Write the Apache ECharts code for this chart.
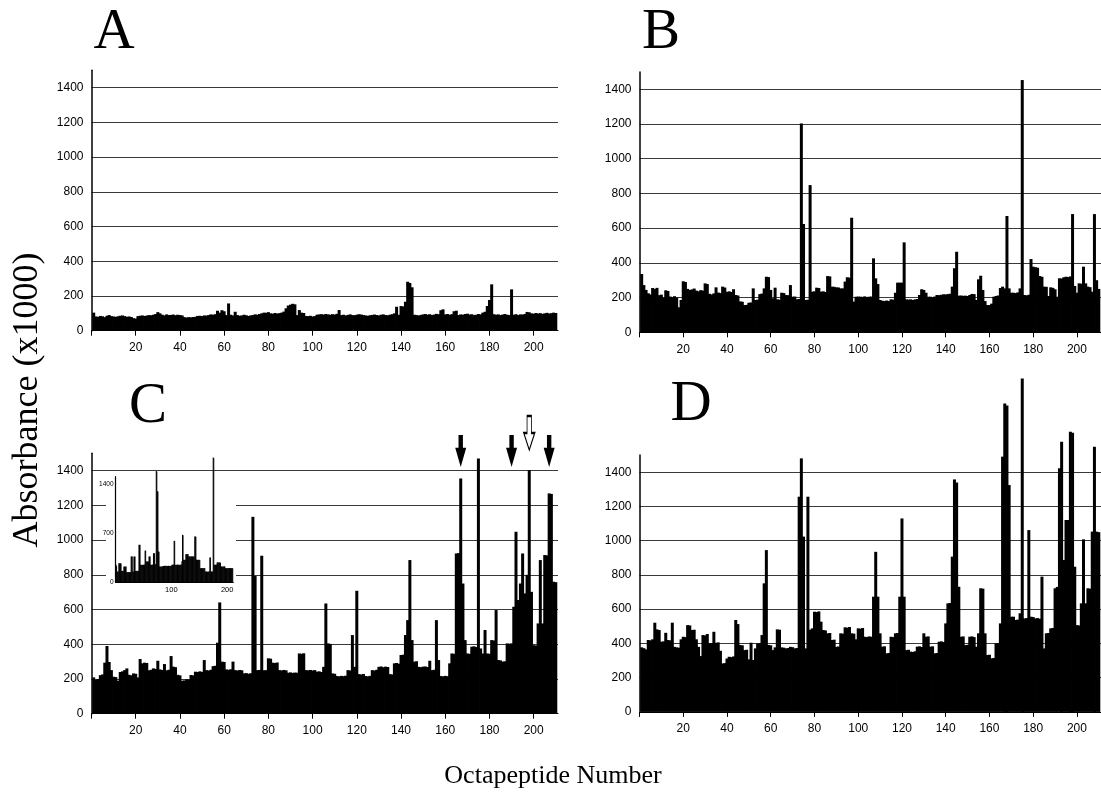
<!DOCTYPE html>
<html><head><meta charset="utf-8">
<script src="https://cdn.jsdelivr.net/npm/echarts@6/dist/echarts.min.js"></script>
<style>html,body{margin:0;padding:0;background:#fff}#c{width:1101px;height:798px}</style>
</head><body><div id="c"></div>
<script>
// ---------- tick labels ----------
const xTicks = [0, 20, 40, 60, 80, 100, 120, 140, 160, 180, 200];
const xLabels = [20, 40, 60, 80, 100, 120, 140, 160, 180, 200];
const yLabels = [0, 200, 400, 600, 800, 1000, 1200, 1400];
const insetXLabels = [100, 200];
const insetYLabels = [0, 700, 1400];
const panelLetters = ['A', 'B', 'C', 'D'];

// ---------- data: absorbance (x1000) for octapeptides 1..210 ----------
const panelA = [
 104, 82, 80, 85, 83, 78, 86, 90, 84, 82,
 80, 83, 86, 88, 84, 80, 82, 79, 72, 70,
 84, 86, 88, 85, 87, 90, 89, 92, 96, 107,
 100, 92, 88, 94, 90, 91, 93, 89, 92, 90,
 88, 78, 76, 78, 77, 79, 80, 85, 86, 84,
 88, 87, 90, 94, 92, 95, 115, 104, 118, 112,
 90, 157, 92, 88, 109, 90, 86, 88, 92, 89,
 85, 88, 90, 94, 92, 96, 100, 104, 103, 107,
 100, 98, 102, 99, 101, 104, 110, 129, 145, 150,
 155, 152, 90, 119, 104, 102, 85, 84, 86, 82,
 84, 92, 94, 95, 93, 96, 94, 92, 95, 93,
 97, 119, 90, 92, 88, 91, 94, 90, 89, 92,
 95, 93, 90, 88, 86, 89, 91, 93, 90, 88,
 92, 94, 90, 89, 92, 95, 100, 138, 92, 142,
 140, 167, 282, 275, 250, 92, 90, 88, 91, 94,
 96, 92, 95, 90, 93, 97, 95, 118, 123, 94,
 96, 92, 95, 112, 115, 90, 94, 92, 96, 98,
 93, 95, 90, 92, 96, 94, 104, 109, 142, 177,
 267, 95, 92, 94, 90, 93, 96, 92, 90, 238,
 92, 95, 90, 94, 93, 96, 108, 106, 100, 98,
 102, 99, 101, 97, 100, 103, 99, 101, 104, 102
];
const panelB = [
 336, 272, 244, 225, 218, 255, 250, 256, 214, 217,
 200, 242, 238, 206, 203, 208, 200, 144, 186, 294,
 290, 250, 244, 247, 252, 240, 236, 243, 240, 282,
 278, 222, 218, 224, 259, 229, 226, 263, 258, 233,
 236, 232, 248, 215, 212, 178, 176, 157, 158, 170,
 172, 253, 186, 188, 220, 223, 253, 320, 318, 244,
 196, 257, 190, 188, 228, 226, 215, 214, 272, 205,
 206, 190, 192, 1203, 624, 186, 188, 848, 234, 236,
 257, 255, 234, 236, 232, 324, 322, 263, 262, 259,
 258, 253, 253, 292, 317, 315, 660, 177, 205, 206,
 205, 204, 207, 203, 205, 206, 426, 311, 278, 186,
 182, 180, 183, 180, 190, 188, 228, 286, 286, 286,
 518, 190, 188, 190, 186, 190, 192, 215, 248, 244,
 228, 205, 205, 202, 206, 215, 214, 216, 219, 218,
 220, 222, 263, 369, 464, 211, 212, 210, 211, 209,
 215, 221, 220, 186, 305, 326, 244, 180, 157, 157,
 165, 205, 209, 212, 255, 263, 253, 670, 253, 228,
 228, 226, 230, 253, 1453, 215, 213, 216, 422, 378,
 375, 372, 324, 320, 263, 262, 209, 259, 256, 248,
 205, 311, 310, 317, 320, 318, 322, 681, 267, 228,
 282, 280, 378, 282, 263, 260, 234, 681, 300, 250
];
const panelC = [
 209, 196, 200, 222, 226, 294, 390, 298, 251, 213,
 211, 190, 240, 244, 251, 261, 224, 221, 232, 230,
 209, 315, 290, 294, 292, 250, 253, 261, 258, 305,
 255, 252, 286, 250, 253, 332, 271, 268, 224, 221,
 190, 192, 198, 196, 223, 221, 242, 240, 244, 241,
 309, 251, 249, 253, 274, 276, 409, 641, 300, 298,
 255, 253, 256, 300, 251, 249, 252, 250, 232, 234,
 230, 233, 1134, 793, 251, 252, 910, 250, 251, 319,
 317, 294, 292, 295, 251, 249, 252, 250, 236, 238,
 235, 237, 236, 347, 345, 348, 251, 250, 252, 249,
 251, 242, 244, 240, 270, 635, 405, 402, 232, 230,
 217, 215, 218, 216, 219, 251, 249, 453, 270, 708,
 228, 226, 229, 217, 215, 218, 251, 249, 253, 270,
 272, 268, 271, 269, 228, 226, 290, 292, 288, 338,
 340, 453, 539, 885, 424, 300, 302, 270, 268, 271,
 272, 269, 305, 251, 253, 539, 309, 217, 215, 218,
 216, 290, 347, 345, 923, 925, 1355, 750, 424, 347,
 345, 386, 388, 384, 1470, 376, 347, 482, 347, 345,
 424, 422, 597, 309, 307, 300, 302, 405, 403, 405,
 616, 1048, 655, 750, 923, 693, 800, 1403, 702, 395,
 393, 520, 885, 520, 914, 912, 1269, 1266, 760, 758
];
const panelD = [
 377, 372, 365, 420, 418, 424, 521, 482, 478, 410,
 412, 462, 420, 418, 521, 380, 377, 375, 424, 439,
 437, 507, 505, 478, 480, 424, 380, 326, 449, 447,
 455, 400, 402, 468, 404, 406, 357, 283, 285, 312,
 322, 320, 324, 537, 513, 391, 389, 361, 363, 307,
 404, 303, 371, 400, 402, 449, 751, 945, 391, 389,
 361, 377, 482, 480, 377, 375, 371, 373, 380, 378,
 371, 373, 1257, 1481, 1024, 371, 1257, 480, 488, 585,
 583, 587, 527, 478, 476, 459, 461, 420, 422, 380,
 382, 459, 457, 494, 492, 496, 459, 457, 424, 488,
 486, 490, 439, 437, 441, 439, 673, 935, 673, 459,
 381, 383, 342, 344, 439, 437, 459, 461, 673, 1130,
 673, 361, 363, 352, 350, 354, 381, 383, 379, 459,
 439, 441, 381, 383, 342, 344, 410, 412, 408, 517,
 634, 636, 907, 1358, 1340, 731, 439, 441, 390, 392,
 439, 441, 437, 381, 459, 722, 720, 459, 332, 334,
 313, 315, 400, 402, 517, 1491, 1802, 1790, 1325, 556,
 556, 537, 539, 576, 1948, 546, 548, 1062, 556, 554,
 546, 548, 544, 790, 371, 459, 461, 488, 490, 722,
 730, 1423, 1578, 887, 1121, 1121, 1636, 1630, 848, 507,
 505, 634, 1008, 634, 722, 720, 1053, 1549, 1053, 1050
];
const insetC = [
 248, 230, 152, 150, 155, 271, 269, 265, 272, 268,
 162, 160, 165, 161, 224, 222, 226, 220, 225, 143,
 145, 140, 146, 142, 144, 148, 141, 367, 365, 367,
 152, 150, 367, 364, 366, 162, 160, 165, 158, 163,
 161, 533, 530, 535, 248, 246, 250, 245, 249, 247,
 252, 248, 448, 450, 295, 292, 298, 290, 296, 367,
 365, 368, 248, 245, 250, 252, 247, 414, 410, 412,
 250, 260, 1581, 1575, 1295, 1290, 438, 435, 224, 226,
 222, 225, 220, 228, 224, 233, 230, 236, 231, 234,
 229, 235, 232, 230, 236, 233, 231, 234, 229, 232,
 248, 250, 246, 252, 590, 585, 248, 245, 250, 247,
 252, 246, 249, 251, 245, 250, 248, 252, 300, 676,
 670, 319, 322, 317, 320, 400, 398, 402, 396, 401,
 367, 365, 369, 364, 368, 366, 370, 363, 367, 365,
 368, 650, 652, 648, 319, 322, 317, 320, 318, 321,
 316, 200, 203, 198, 201, 199, 204, 197, 202, 200,
 152, 155, 150, 153, 148, 154, 151, 156, 354, 352,
 150, 153, 149, 155, 1771, 1765, 248, 250, 246, 252,
 249, 281, 284, 278, 282, 280, 283, 279, 224, 226,
 222, 225, 220, 224, 227, 221, 200, 203, 198, 201,
 199, 204, 197, 202, 200, 198, 203, 199, 201, 200
];
const arrowPeptides = [167, 190, 207];      // filled arrows in panel C
const hollowArrowPeptides = [198];          // open arrow in panel C

// ---------- layout / style ----------
const SANS = '"Liberation Sans", Arial, sans-serif';
const SERIF = '"Liberation Serif", "Times New Roman", serif';
const GRID_COLOR = '#3a3a3a';
const ARROW_Y = 1513, HOLLOW_ARROW_Y = 1617;

const grids = [
  {left: 91.5,  top: 70.3,  width: 466.5, height: 260.4},
  {left: 639.5, top: 71.9,  width: 466.5, height: 260.4},
  {left: 91.5,  top: 453.3, width: 466.5, height: 260.4},
  {left: 639.5, top: 455.1, width: 466.5, height: 256.8},
  {left: 115.5, top: 476.7, width: 117.8, height: 105.6, zlevel: 1}
];

function mainX(i) {
  return {
    type: 'value', gridIndex: i, min: 0, max: 211, interval: 20,
    axisLine: {show: true, onZero: false, lineStyle: {color: '#000', width: 1}},
    axisTick: {show: true, customValues: xTicks, length: 5, lineStyle: {color: '#000', width: 1}},
    axisLabel: {customValues: xLabels, formatter: v => xLabels.includes(v) ? String(v) : '',
      color: '#000', fontSize: 12, fontFamily: SANS, margin: 11},
    splitLine: {show: false}
  };
}
function mainY(i) {
  return {
    type: 'value', gridIndex: i, min: 0, max: 1500, interval: 100,
    axisLine: {show: true, lineStyle: {color: '#000', width: 1.5}},
    axisTick: {show: false},
    axisLabel: {formatter: v => yLabels.includes(v) ? String(v) : '',
      color: '#000', fontSize: 12, fontFamily: SANS, margin: 8},
    splitLine: {show: true, showMinLine: true, showMaxLine: true,
      lineStyle: {color: [GRID_COLOR, 'rgba(0,0,0,0)'], width: 1}}
  };
}
function bars(arr, idx, minW, extra) {
  return Object.assign({
    type: 'bar', xAxisIndex: idx, yAxisIndex: idx,
    data: arr.map((v, k) => [k + 1, v]),
    barCategoryGap: '0%', barMinWidth: minW,
    itemStyle: {color: '#000', borderColor: '#000', borderWidth: 0},
    clip: false, silent: true
  }, extra || {});
}

const xAxes = [0, 1, 2, 3].map(mainX);
const yAxes = [0, 1, 2, 3].map(mainY);
xAxes.push({
  type: 'value', gridIndex: 4, min: 0, max: 211, zlevel: 1, z: 10,
  axisLine: {show: true, lineStyle: {color: '#000', width: 1}},
  axisTick: {show: false},
  axisLabel: {customValues: insetXLabels, formatter: v => String(v),
    color: '#000', fontSize: 7.5, fontFamily: SANS, margin: 4},
  splitLine: {show: false}
});
yAxes.push({
  type: 'value', gridIndex: 4, min: 0, max: 1500, zlevel: 1, z: 10,
  axisLine: {show: true, lineStyle: {color: '#000', width: 1.2}},
  axisTick: {show: false},
  axisLabel: {customValues: insetYLabels, formatter: v => String(v),
    color: '#000', fontSize: 6.5, fontFamily: SANS, margin: 2},
  splitLine: {show: false}
});

const letterPos = [[114, 33], [661, 33], [148, 407], [691, 405]];
const graphics = panelLetters.map((t, k) => ({
  type: 'text', x: letterPos[k][0], y: letterPos[k][1],
  style: {text: t, font: '57px ' + SERIF, fill: '#000', textAlign: 'center', textVerticalAlign: 'middle'}
}));
graphics.push({
  type: 'text', x: 28, y: 400, rotation: Math.PI / 2,
  style: {text: 'Absorbance (x1000)', font: '36px ' + SERIF, fill: '#000', textAlign: 'center', textVerticalAlign: 'middle'}
});
graphics.push({
  type: 'text', x: 553, y: 776,
  style: {text: 'Octapeptide Number', font: '26px ' + SERIF, fill: '#000', textAlign: 'center', textVerticalAlign: 'middle'}
});
graphics.push({
  type: 'rect', zlevel: 1, z: 1, shape: {x: 106, y: 473, width: 130, height: 125},
  style: {fill: '#fff'}
});

const ARROW_PATH = 'path://M3,0L7,0L7,4L10,4L5,10L0,4L3,4Z';
const HOLLOW_PATH = 'path://M3,0L7,0L7,5L10,5L5,10L0,5L3,5Z';

const option = {
  backgroundColor: '#fff',
  animation: false,
  grid: grids,
  xAxis: xAxes,
  yAxis: yAxes,
  graphic: {elements: graphics},
  series: [
    bars(panelA, 0, 3),
    bars(panelB, 1, 3),
    bars(panelC, 2, 3),
    bars(panelD, 3, 3),
    bars(insetC, 4, 1, {zlevel: 1, z: 11}),
    {type: 'scatter', xAxisIndex: 2, yAxisIndex: 2, clip: false, silent: true,
     data: arrowPeptides.map(p => [p, ARROW_Y]),
     symbol: ARROW_PATH, symbolSize: [11, 32], itemStyle: {color: '#000', opacity: 1}},
    {type: 'scatter', xAxisIndex: 2, yAxisIndex: 2, clip: false, silent: true,
     data: hollowArrowPeptides.map(p => [p, HOLLOW_ARROW_Y]),
     symbol: HOLLOW_PATH, symbolSize: [11, 34],
     itemStyle: {color: '#fff', borderColor: '#000', borderWidth: 1.4, opacity: 1}}
  ]
};
const chart = echarts.init(document.getElementById('c'), null, {renderer: 'canvas'});
chart.setOption(option);
</script>
</body></html>
